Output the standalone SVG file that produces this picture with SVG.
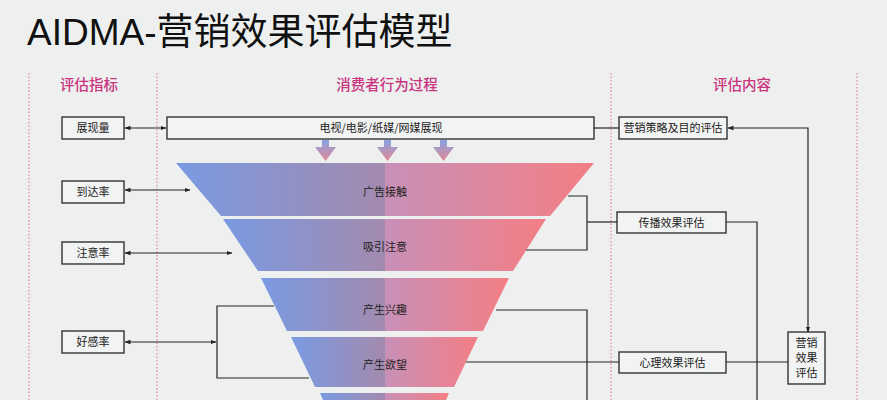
<svg xmlns="http://www.w3.org/2000/svg" width="887" height="400" viewBox="0 0 887 400">
<style>
text{font-family:"Liberation Sans","Noto Sans CJK SC",sans-serif;fill:#222}
.hdr{font-family:"Noto Sans CJK SC",sans-serif;font-size:14.5px;fill:#c8357e;font-weight:500;text-anchor:middle}
.lbl{font-family:"Noto Sans CJK SC",sans-serif;font-size:11px;text-anchor:middle;fill:#222}
.box{fill:#f2f3f3;stroke:#333;stroke-width:1.4}
.dot{stroke:#d8708f;stroke-width:1;stroke-dasharray:1.5,2;fill:none}
.ln{stroke:#222;stroke-width:1.2;fill:none}
.L{fill:url(#gl)}
.R{fill:url(#gr)}
</style>
<defs>
<linearGradient id="gl" x1="0" y1="0" x2="1" y2="0">
<stop offset="0" stop-color="#7a9ae2"/><stop offset="1" stop-color="#a38aae"/>
</linearGradient>
<linearGradient id="gr" x1="0" y1="0" x2="1" y2="0">
<stop offset="0" stop-color="#c890b8"/><stop offset="1" stop-color="#f47e84"/>
</linearGradient>
<linearGradient id="ga" x1="0" y1="0" x2="0" y2="1">
<stop offset="0" stop-color="#86a2e0"/><stop offset="1" stop-color="#e48896"/>
</linearGradient>
<marker id="ah" viewBox="0 0 6 6" refX="5.5" refY="3" markerWidth="6" markerHeight="6" orient="auto-start-reverse" markerUnits="userSpaceOnUse">
<path d="M0,0.8 L6,3 L0,5.2 Z" fill="#222"/>
</marker>
</defs>
<rect width="887" height="400" fill="#eef0f0"/>

<text x="27" y="45" style="font-family:'Liberation Sans','Noto Sans CJK SC',sans-serif;font-size:37px;fill:#111">AIDMA-营销效果评估模型</text>

<g id="dividers">
<line class="dot" x1="29" y1="73" x2="29" y2="400"/>
<line class="dot" x1="157" y1="73" x2="157" y2="400"/>
<line class="dot" x1="611" y1="73" x2="611" y2="400"/>
<line class="dot" x1="857" y1="73" x2="857" y2="400"/>
</g>

<g id="headers">
<text class="hdr" x="89" y="90">评估指标</text>
<text class="hdr" x="387" y="90">消费者行为过程</text>
<text class="hdr" x="742" y="90">评估内容</text>
</g>

<g id="funnel">
<g id="stage1">
<polygon class="L" points="176,163 385,163 385,216 221,216"/>
<polygon class="R" points="385,163 594,163 550,216 385,216"/>
<text class="lbl" x="385" y="196">广告接触</text>
</g>
<g id="stage2">
<polygon class="L" points="223,219 385,219 385,271 258,271"/>
<polygon class="R" points="385,219 546,219 513,271 385,271"/>
<text class="lbl" x="385" y="251">吸引注意</text>
</g>
<g id="stage3">
<polygon class="L" points="261,278 385,278 385,331 287,331"/>
<polygon class="R" points="385,278 509,278 483,331 385,331"/>
<text class="lbl" x="385" y="314">产生兴趣</text>
</g>
<g id="stage4">
<polygon class="L" points="291,337 385,337 385,387 315,387"/>
<polygon class="R" points="385,337 478,337 454,387 385,387"/>
<text class="lbl" x="385" y="369">产生欲望</text>
</g>
<g id="stage5">
<polygon class="L" points="320,393 385,393 385,400 323,400"/>
<polygon class="R" points="385,393 449,393 446,400 385,400"/>
</g>
</g>

<g id="media">
<rect class="box" x="167" y="117" width="427" height="22"/>
<text class="lbl" x="381" y="132">电视/电影/纸媒/网媒展现</text>
</g>

<g id="down-arrows" fill="url(#ga)">
<path d="M322,140 h7 v7 h7 l-10.5,14 l-10.5,-14 h7 z"/>
<path d="M384,140 h7 v7 h7 l-10.5,14 l-10.5,-14 h7 z"/>
<path d="M440,140 h7 v7 h7 l-10.5,14 l-10.5,-14 h7 z"/>
</g>

<g id="n-exposure"><rect class="box" x="62" y="117" width="62" height="22"/><text class="lbl" x="93" y="132">展现量</text></g>
<g id="n-reach"><rect class="box" x="62" y="181" width="62" height="22"/><text class="lbl" x="93" y="196">到达率</text></g>
<g id="n-attention"><rect class="box" x="62" y="242" width="62" height="22"/><text class="lbl" x="93" y="257">注意率</text></g>
<g id="n-favor"><rect class="box" x="62" y="331" width="62" height="22"/><text class="lbl" x="93" y="346">好感率</text></g>

<g id="n-strategy"><rect class="box" x="619" y="117" width="108" height="22"/><text class="lbl" x="673" y="132">营销策略及目的评估</text></g>
<g id="n-spread"><rect class="box" x="617" y="212" width="109" height="21"/><text class="lbl" x="671.5" y="226.5">传播效果评估</text></g>
<g id="n-psych"><rect class="box" x="619" y="352" width="107" height="21"/><text class="lbl" x="672.5" y="366.5">心理效果评估</text></g>
<g id="n-marketing"><rect class="box" x="788" y="332" width="37" height="52"/>
<text class="lbl" x="806.5" y="347">营销</text><text class="lbl" x="806.5" y="362">效果</text><text class="lbl" x="806.5" y="377">评估</text></g>

<g id="connectors">
<line class="ln" x1="125" y1="128" x2="166" y2="128" marker-start="url(#ah)" marker-end="url(#ah)"/>
<line class="ln" x1="125" y1="190" x2="190" y2="190" marker-start="url(#ah)" marker-end="url(#ah)"/>
<line class="ln" x1="125" y1="253" x2="232" y2="253" marker-start="url(#ah)" marker-end="url(#ah)"/>
<line class="ln" x1="125" y1="342" x2="216" y2="342" marker-start="url(#ah)" marker-end="url(#ah)"/>
<polyline class="ln" points="274,306 217,306 217,378 309,378"/>
<line class="ln" x1="594" y1="128" x2="619" y2="128"/>
<polyline class="ln" points="808,332 808,128 728,128" marker-start="url(#ah)" marker-end="url(#ah)"/>
<polyline class="ln" points="568,196 587,196 587,250 526,250"/>
<line class="ln" x1="587" y1="222" x2="617" y2="222"/>
<polyline class="ln" points="726,222 757,222 757,400"/>
<polyline class="ln" points="496,310 587,310 587,400"/>
<line class="ln" x1="466" y1="362" x2="619" y2="362"/>
<line class="ln" x1="726" y1="362" x2="788" y2="362"/>
</g>
</svg>
